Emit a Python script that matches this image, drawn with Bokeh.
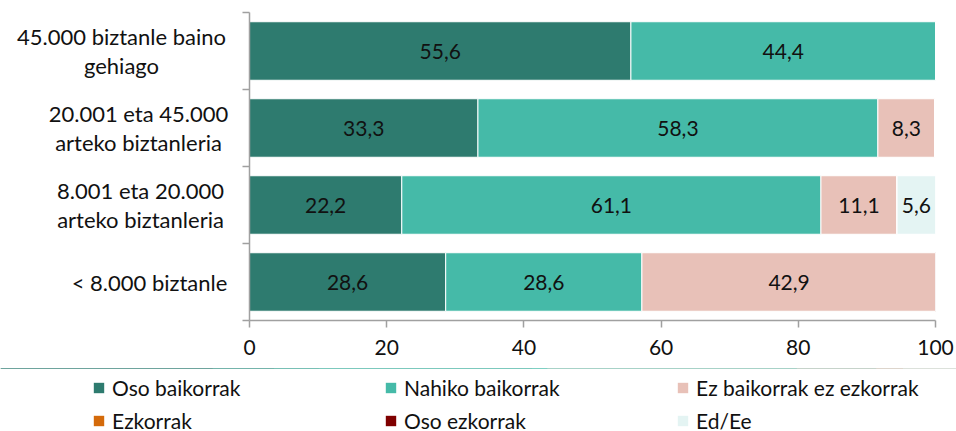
from bokeh.plotting import figure
from bokeh.layouts import row, column
from bokeh.models import (Range1d, FixedTicker, Legend, LegendItem,
                          ColumnDataSource)
from bokeh.core.properties import value
from bokeh.embed import file_html
from bokeh.resources import INLINE

categories = ["45.000 biztanle baino\ngehiago",
              "20.001 eta 45.000\narteko biztanleria",
              "8.001 eta 20.000\narteko biztanleria",
              "< 8.000 biztanle"]
series_names = ["Oso baikorrak", "Nahiko baikorrak", "Ez baikorrak ez ezkorrak",
                "Ezkorrak", "Oso ezkorrak", "Ed/Ee"]
oso_baikorrak = [55.6, 33.3, 22.2, 28.6]
nahiko_baikorrak = [44.4, 58.3, 61.1, 28.6]
ez_baikorrak_ez_ezkorrak = [0.0, 8.3, 11.1, 42.9]
ezkorrak = [0.0, 0.0, 0.0, 0.0]
oso_ezkorrak = [0.0, 0.0, 0.0, 0.0]
ed_ee = [0.0, 0.0, 5.6, 0.0]
colors = ["#2e7b6f", "#45baa8", "#e8c1b8", "#d46a0a", "#7f0000", "#e4f4f3"]
x_ticks = [0, 20, 40, 60, 80, 100]

FONT = "Lato"
FS = "21px"
TXT = "#111111"

series = [oso_baikorrak, nahiko_baikorrak, ez_baikorrak_ez_ezkorrak,
          ezkorrak, oso_ezkorrak, ed_ee]
n = len(categories)
ypos = [n - 0.5 - i for i in range(n)]  # first category at top

TOP_H = 368
BORDER_TOP = 12
BORDER_BOTTOM = 48
LAB_W = 238

# ---------------- main chart ----------------
p = figure(width=956 - LAB_W, height=TOP_H, output_backend="svg",
           toolbar_location=None,
           x_range=Range1d(0, 100), y_range=Range1d(0, n),
           min_border_left=11, min_border_right=21, min_border_top=BORDER_TOP,
           min_border_bottom=BORDER_BOTTOM)
p.outline_line_color = None
p.xgrid.visible = False
p.ygrid.visible = False

p.xaxis.ticker = FixedTicker(ticks=x_ticks)
p.xaxis.major_tick_in = 0
p.xaxis.major_tick_out = 7
p.xaxis.minor_tick_line_color = None
p.xaxis.axis_line_color = "#a0a0a0"
p.xaxis.axis_line_width = 1.5
p.xaxis.major_tick_line_color = "#a0a0a0"
p.xaxis.major_tick_line_width = 1.5
p.xaxis.major_label_text_font = FONT
p.xaxis.major_label_text_font_size = FS
p.xaxis.major_label_text_color = TXT
p.xaxis.major_label_standoff = 12

p.yaxis.ticker = FixedTicker(ticks=list(range(n + 1)))
p.yaxis.major_tick_in = 0
p.yaxis.major_tick_out = 7
p.yaxis.minor_tick_line_color = None
p.yaxis.axis_line_color = "#a0a0a0"
p.yaxis.axis_line_width = 1.5
p.yaxis.major_tick_line_color = "#a0a0a0"
p.yaxis.major_tick_line_width = 1.5
p.yaxis.major_label_overrides = {i: "" for i in range(n + 1)}
p.yaxis.major_label_standoff = 0

left = [0.0] * n
sources = []
label_x, label_y, label_t = [], [], []
for vals, col in zip(series, colors):
    right = [l + v for l, v in zip(left, vals)]
    src = ColumnDataSource(dict(y=ypos, left=left, right=right))
    sources.append(src)
    p.hbar(y="y", left="left", right="right", height=0.76, source=src,
           fill_color=col, line_color="white", line_width=1)
    for i, v in enumerate(vals):
        if v > 0:
            label_x.append(left[i] + v / 2)
            label_y.append(ypos[i])
            label_t.append(f"{v:.1f}".replace(".", ","))
    left = right

p.text(x=label_x, y=label_y, text=label_t, text_align="center",
       text_baseline="middle", text_font=value(FONT), text_font_size=FS,
       text_color=TXT)

# ---------------- category labels (left panel) ----------------
lab = figure(width=LAB_W, height=TOP_H, output_backend="svg",
             toolbar_location=None,
             x_range=Range1d(0, LAB_W), y_range=Range1d(0, n),
             x_axis_type=None, y_axis_type=None,
             min_border_left=0, min_border_right=0, min_border_top=BORDER_TOP,
             min_border_bottom=BORDER_BOTTOM)
lab.outline_line_color = None
label_centers = [121, 138, 140, 149]   # screen px: centre of each label block
lab.text(x=label_centers, y=ypos, text=categories, text_align="center",
         text_baseline="middle", text_font=value(FONT), text_font_size="22px",
         text_color=TXT, text_line_height=1.06)

# ---------------- legend (bottom panel) ----------------
LEG_H = 431 - TOP_H
leg = figure(width=956, height=LEG_H, output_backend="svg", toolbar_location=None,
             x_range=Range1d(0, 100), y_range=Range1d(-300, -290),
             x_axis_type=None, y_axis_type=None,
             min_border_left=0, min_border_right=0, min_border_top=0,
             min_border_bottom=0)
leg.outline_line_color = None
proxies = []
for src, col in zip(sources, colors):
    proxies.append(leg.hbar(y="y", left="left", right="right", height=0,
                            source=src, fill_color=col, line_color=None))
# legend fills column by column: reorder so rows read like the reference
order = [0, 3, 1, 4, 2, 5]
legend = Legend(items=[LegendItem(label=series_names[k], renderers=[proxies[k]])
                       for k in order],
                ncols=3, location=(92, -2),
                glyph_width=13, glyph_height=13, label_standoff=7,
                label_width=264, label_height=23, spacing=8,
                padding=0, margin=0, border_line_color=None,
                background_fill_alpha=0,
                label_text_font=FONT, label_text_font_size=FS,
                label_text_color=TXT)
leg.add_layout(legend, "center")

layout = column(row(lab, p), leg)
open("out.html", "w").write(file_html(layout, INLINE))
